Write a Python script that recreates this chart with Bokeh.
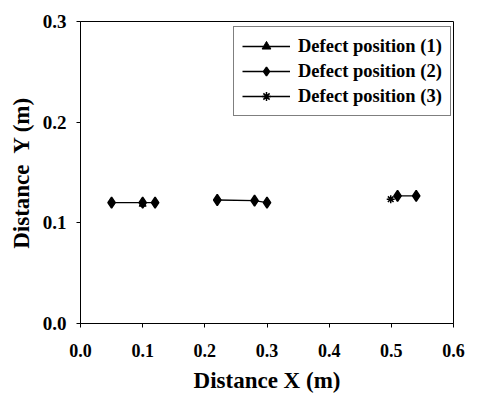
import numpy as np
from bokeh.plotting import figure
from bokeh.models import FixedTicker, PrintfTickFormatter, Range1d, Legend, LegendItem
from bokeh.embed import file_html
from bokeh.resources import INLINE

# Data
pos1_x = [0.10]
pos1_y = [0.1185]

pos2_x = [0.05, 0.10, 0.12, np.nan, 0.22, 0.28, 0.30, np.nan, 0.51, 0.54]
pos2_y = [0.120, 0.120, 0.120, np.nan, 0.1227, 0.122, 0.120, np.nan, 0.1267, 0.1267]

pos3_x = [0.499]
pos3_y = [0.1235]

x_ticks = [0.0, 0.1, 0.2, 0.3, 0.4, 0.5, 0.6]
y_ticks = [0.0, 0.1, 0.2, 0.3]

FONT = "Liberation Serif"

p = figure(width=478, height=396, output_backend="svg", toolbar_location=None,
           x_range=Range1d(0, 0.6), y_range=Range1d(0, 0.3),
           min_border_left=80, min_border_right=25, min_border_top=21, min_border_bottom=73)

p.xgrid.visible = False
p.ygrid.visible = False
p.outline_line_color = "black"
p.outline_line_width = 1
p.background_fill_color = "white"
p.border_fill_color = "white"

l1 = p.line(pos1_x, pos1_y, line_color="black", line_width=1.3)
s1 = p.scatter(pos1_x, pos1_y, marker="triangle", size=7, color="black")
l2 = p.line(pos2_x, pos2_y, line_color="black", line_width=1.3)
s2 = p.scatter(pos2_x, pos2_y, marker="diamond", size=11, color="black", line_width=1.5)
l3 = p.line(pos3_x, pos3_y, line_color="black", line_width=1.3)
s3 = p.scatter(pos3_x, pos3_y, marker="asterisk", size=8, line_color="black", line_width=1.5)

legend = Legend(items=[
    LegendItem(label="Defect position (1)", renderers=[l1, s1]),
    LegendItem(label="Defect position (2)", renderers=[l2, s2]),
    LegendItem(label="Defect position (3)", renderers=[l3, s3]),
], location=(153, 207))
legend.label_text_font = FONT
legend.label_text_font_style = "bold"
legend.label_text_font_size = "18.5px"
legend.label_text_color = "black"
legend.glyph_width = 48
legend.glyph_height = 22
legend.label_height = 22
legend.spacing = 3
legend.padding = 8
legend.label_standoff = 8
legend.border_line_color = "black"
legend.border_line_width = 1.5
legend.background_fill_alpha = 1
p.add_layout(legend, "center")

for ax in (p.xaxis[0], p.yaxis[0]):
    ax.axis_line_color = "black"
    ax.major_tick_line_color = "black"
    ax.minor_tick_line_color = None
    ax.major_tick_out = 4
    ax.major_tick_in = 0
    ax.major_label_text_font = FONT
    ax.major_label_text_font_style = "bold"
    ax.major_label_text_color = "black"
    ax.major_label_text_line_height = 1.0
    ax.axis_label_text_font = FONT
    ax.axis_label_text_font_style = "bold"
    ax.axis_label_text_font_size = "23px"
    ax.axis_label_text_color = "black"
    ax.axis_label_text_line_height = 1.0
    ax.formatter = PrintfTickFormatter(format="%.1f")

p.xaxis.ticker = FixedTicker(ticks=x_ticks)
p.yaxis.ticker = FixedTicker(ticks=y_ticks)
p.xaxis.major_label_text_font_size = "18px"
p.yaxis.major_label_text_font_size = "19px"
p.xaxis.major_label_standoff = 16
p.yaxis.major_label_standoff = 10
p.xaxis.axis_label = "Distance X (m)"
p.yaxis.axis_label = "Distance\u00a0 Y (m)"
p.xaxis.axis_label_standoff = 8
p.yaxis.axis_label_standoff = 6

open("out.html", "w").write(file_html(p, INLINE))
